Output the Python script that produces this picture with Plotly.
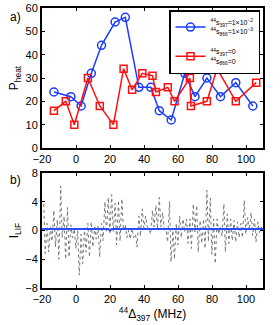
import plotly.graph_objects as go

# ---- panel a data ----
blue_x = [-13, -3, 3, 9, 15, 23, 29, 37, 44, 49, 56, 64, 70, 77, 85, 94, 104]
blue_y = [24, 22, 18, 32, 44, 54, 56, 26, 26, 16, 12, 32, 22, 30, 22, 28, 18]
red_x = [-13, -6, -1, 7, 14, 22, 28, 33, 39, 45, 47, 54, 58, 67, 67.6, 77, 83, 94, 106]
red_y = [16, 20, 10, 30, 18, 10, 34, 25, 32, 31, 24, 26, 20, 30, 18, 20, 34, 20, 28]

# ---- panel b data: LIF trace column extremes ----
lif_x = [-19, -17, -15, -13, -11, -9, -7, -5, -3, -1, 1, 3, 5, 7, 9, 11, 13, 15, 17, 19,
         21, 23, 25, 27, 29, 31, 33, 35, 37, 39, 41, 43, 45, 47, 49, 51, 53, 55, 57, 59,
         61, 63, 65, 67, 69, 71, 73, 75, 77, 79, 81, 83, 85, 87, 89, 91, 93, 95, 97, 99,
         101, 103, 105, 107, 109]
lif_top = [3.7, 1.0, 0.5, 2.8, 1.5, 6.2, 2.0, 3.2, 0.8, 0.2, 0.0, -0.5, 0.0, 1.0, 1.2, 0.5, 0.6, 1.0, 4.0, 4.6,
           5.0, 3.8, 4.2, 4.4, 0.8, 0.0, 0.3, -0.5, 2.0, 3.0, 2.0, 0.2, 2.8, 3.5, 4.6, 2.5, 0.0, 4.0, 0.0, 1.0,
           2.0, 1.6, 1.6, 1.6, 3.7, 3.5, 1.4, 1.6, 5.6, 4.5, 1.6, 1.6, 0.5, 3.7, 2.3, 1.6, 1.4, 1.2, 1.0, 4.2,
           1.8, 2.5, 1.6, 1.2, 0.5]
lif_bot = [-3.2, -3.0, -1.5, -2.3, -4.0, -1.0, -4.0, -3.7, -1.0, -2.5, -6.2, -4.6, -3.0, -3.7, -2.3, -1.2, -3.7, -1.4, -0.3, -0.5,
           -0.2, -2.0, -1.5, 0.0, -1.0, -1.2, -1.0, -2.3, -0.8, 0.3, 0.5, -0.5, 0.5, 0.2, 0.5, 0.0, -1.6, -4.4, -4.0, -2.0,
           -1.0, -0.2, -1.8, -2.5, -0.2, -3.0, -1.8, -2.5, -1.5, -3.3, -4.6, -0.5, -0.8, -3.0, -1.8, -1.4, -1.6, -1.0, -1.0, -0.5,
           0.0, -0.7, -1.6, -0.3, 0.0]
sim_x = [-20, 19, 20, 21, 110]
sim_y = [0.2, 0.2, 0.0, 0.2, 0.2]

xticks = [-20, 0, 20, 40, 60, 80, 100]

# zigzag through column extremes
zz_x, zz_y = [], []
for xv, t, b in zip(lif_x, lif_top, lif_bot):
    zz_x += [xv, xv + 0.9]
    zz_y += [t, b]

W, H = 280, 325
xdom = [42 / W, 263 / W]
ydom_a = [1 - 148 / H, 1 - 8 / H]
ydom_b = [1 - 288 / H, 1 - 173 / H]

FONT = "Liberation Sans, Arial, sans-serif"
fig = go.Figure()

lab1 = "<sup>44</sup>s<sub>397</sub>=1×10<sup>−2</sup><br><sup>44</sup>s<sub>866</sub>=1×10<sup>−3</sup>"
lab2 = "<sup>44</sup>s<sub>397</sub>=0<br><sup>44</sup>s<sub>866</sub>=0"

fig.add_trace(go.Scatter(x=blue_x, y=blue_y, mode="lines+markers", name=lab1, legendgroup="g1",
                         line=dict(color="#1a3cff", width=1.5),
                         marker=dict(symbol="circle-open", size=8, color="#1a3cff", line=dict(width=1.5)),
                         xaxis="x", yaxis="y"))
fig.add_trace(go.Scatter(x=red_x, y=red_y, mode="lines+markers", name=lab2, legendgroup="g2",
                         line=dict(color="#ff1010", width=1.5),
                         marker=dict(symbol="square-open", size=7, color="#ff1010", line=dict(width=1.5)),
                         xaxis="x", yaxis="y"))
fig.add_trace(go.Scatter(x=zz_x, y=zz_y, mode="lines", showlegend=False,
                         line=dict(color="#777777", width=1, dash="dot"),
                         xaxis="x2", yaxis="y2"))
fig.add_trace(go.Scatter(x=sim_x, y=sim_y, mode="lines", showlegend=False,
                         line=dict(color="#2a4cff", width=2),
                         xaxis="x2", yaxis="y2"))

axcommon = dict(showline=True, linecolor="black", linewidth=2, mirror="ticks",
                ticks="inside", ticklen=3, tickwidth=1, tickcolor="black",
                showgrid=False, zeroline=False, automargin=False,
                tickfont=dict(family=FONT, size=11, color="black"))

fig.update_layout(
    width=W, height=H, margin=dict(l=0, r=0, t=0, b=0),
    paper_bgcolor="white", plot_bgcolor="white",
    font=dict(family=FONT, color="black"),
    xaxis=dict(domain=xdom, range=[-20, 110], tickvals=xticks, anchor="y", **axcommon),
    yaxis=dict(domain=ydom_a, range=[0, 60], tickvals=[0, 10, 20, 30, 40, 50, 60], anchor="x",
               title=dict(text="P<sub>heat</sub>", font=dict(size=12), standoff=4), **axcommon),
    xaxis2=dict(domain=xdom, range=[-20, 110], tickvals=xticks, anchor="y2",
                title=dict(text="<sup>44</sup>Δ<sub>397</sub> (MHz)", font=dict(size=12), standoff=0), **axcommon),
    yaxis2=dict(domain=ydom_b, range=[-8, 8], tickvals=[-8, -4, 0, 4, 8], anchor="x2",
                title=dict(text="I<sub>LIF</sub>", font=dict(size=12), standoff=4), **axcommon),
    legend=dict(x=169 / W, y=1 - 10 / H, xanchor="left", yanchor="top",
                bordercolor="black", borderwidth=1.5, bgcolor="white",
                font=dict(family=FONT, size=7), itemwidth=30, tracegroupgap=8),
    annotations=[
        dict(text="a)", x=8 / W, y=1 - 17 / H, xref="paper", yref="paper", showarrow=False,
             xanchor="left", yanchor="middle", font=dict(size=12)),
        dict(text="b)", x=8 / W, y=1 - 180 / H, xref="paper", yref="paper", showarrow=False,
             xanchor="left", yanchor="middle", font=dict(size=12)),
    ],
)

fig.write_html("out.html", config={"displayModeBar": False},
               post_script="document.body.style.margin='0';")
